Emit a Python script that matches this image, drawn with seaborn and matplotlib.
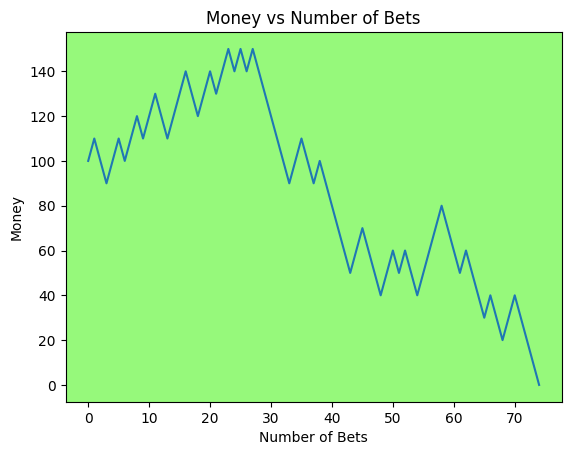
import seaborn as sns
import matplotlib
matplotlib.use('Agg')
import matplotlib.pyplot as plt
import pandas as pd

# turning points of the money walk (bet number, money)
turn_bets = [0, 1, 3, 5, 6, 8, 9, 11, 13, 16, 18, 20, 21, 23, 24, 25, 26, 27,
             33, 35, 37, 38, 43, 45, 48, 50, 51, 52, 54, 58, 61, 62, 65, 66,
             68, 70, 74]
turn_money = [100, 110, 90, 110, 100, 120, 110, 130, 110, 140, 120, 140, 130,
              150, 140, 150, 140, 150, 90, 110, 90, 100, 50, 70, 40, 60, 50,
              60, 40, 80, 50, 60, 30, 40, 20, 40, 0]

# expand to one value per bet (each bet is +/-10)
bets = []
money = []
for i in range(len(turn_bets) - 1):
    b0, b1 = turn_bets[i], turn_bets[i + 1]
    m0, m1 = turn_money[i], turn_money[i + 1]
    step = 10 if m1 > m0 else -10
    for k in range(b1 - b0):
        bets.append(b0 + k)
        money.append(m0 + step * k)
bets.append(turn_bets[-1])
money.append(turn_money[-1])

df = pd.DataFrame({'bets': bets, 'money': money})

fig, ax = plt.subplots(figsize=(6.4, 4.8))
sns.lineplot(x='bets', y='money', data=df, ax=ax)
ax.set_facecolor('xkcd:light green')
plt.xlabel('Number of Bets')
plt.ylabel('Money')
plt.title('Money vs Number of Bets')
fig.savefig('out.png', dpi=100, bbox_inches='tight')
